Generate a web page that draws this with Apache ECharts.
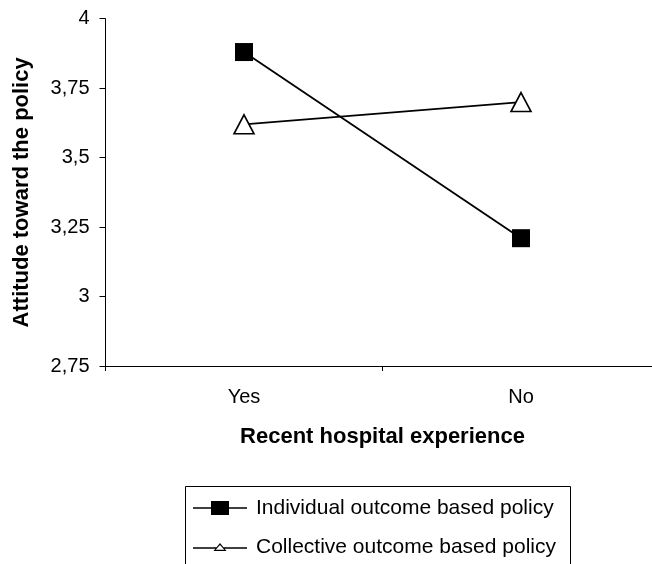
<!DOCTYPE html>
<html>
<head>
<meta charset="utf-8">
<script src="https://cdn.jsdelivr.net/npm/echarts@6/dist/echarts.min.js"></script>
<style>
  html, body { margin: 0; padding: 0; background: #fff; }
  #chart { width: 652px; height: 564px; }
</style>
</head>
<body>
<div id="chart"></div>
<script>
// Attitude scores by recent hospital experience, per policy framing
const categories = ['Yes', 'No'];
const individualPolicy = [3.88, 3.21];
const collectivePolicy = [3.62, 3.70];
const seriesNames = ['Individual outcome based policy', 'Collective outcome based policy'];
const yTicks = { min: 2.75, max: 4, step: 0.25 };

const FONT = '"Liberation Sans", Arial, sans-serif';

// Legend keys: a line with the series marker on it
const squareKey = 'path://M0 6.3H54V7.7H0Z M18 0H36V14H18Z';
const triangleKey = 'path://M0 4.3H24V5.7H0Z M30 4.3H54V5.7H30Z ' +
                    'M20.5 8L27 0L33.5 8Z M22.7 6.8L31.3 6.8L27 1.9Z';

// One single-entry legend per row, stacked inside a framed box
function legendRow(name, icon, top) {
  return {
    orient: 'vertical',
    left: 185,
    top: top,
    padding: [0, 0, 0, 8],
    borderWidth: 0,
    itemWidth: 54,
    itemHeight: 14,
    symbolKeepAspect: true,
    textStyle: { fontFamily: FONT, fontSize: 21, lineHeight: 22, color: '#000', padding: [0, 0, 0, 4] },
    data: [{ name: name, icon: icon, itemStyle: { color: '#000', borderWidth: 0 } }]
  };
}

const chart = echarts.init(document.getElementById('chart'), null, { renderer: 'canvas' });

chart.setOption({
  animation: false,
  backgroundColor: '#ffffff',
  textStyle: { fontFamily: FONT, color: '#000' },
  grid: { left: 105.5, top: 18.7, width: 554, height: 347.3, outerBoundsMode: 'none', containLabel: false },
  xAxis: {
    type: 'category',
    data: categories,
    boundaryGap: true,
    name: 'Recent hospital experience',
    nameLocation: 'middle',
    nameGap: 60,
    nameTextStyle: { fontFamily: FONT, fontSize: 22, fontWeight: 'bold', color: '#000' },
    axisLine: { lineStyle: { color: '#000', width: 1 } },
    axisTick: { show: true, length: 5, lineStyle: { color: '#000' } },
    axisLabel: { fontFamily: FONT, fontSize: 20, color: '#000', margin: 21 }
  },
  yAxis: {
    type: 'value',
    min: yTicks.min,
    max: yTicks.max,
    interval: yTicks.step,
    name: 'Attitude toward the policy',
    nameLocation: 'middle',
    nameGap: 73,
    nameTextStyle: { fontFamily: FONT, fontSize: 22, fontWeight: 'bold', color: '#000' },
    splitLine: { show: false },
    axisLine: { show: true, lineStyle: { color: '#000', width: 1 } },
    axisTick: { show: true, length: 6, lineStyle: { color: '#000' } },
    axisLabel: {
      fontFamily: FONT, fontSize: 20, color: '#000', margin: 16,
      formatter: v => String(+v.toFixed(2)).replace('.', ',')
    }
  },
  graphic: [{
    type: 'rect',
    shape: { x: 185.5, y: 486.5, width: 385, height: 100 },
    style: { fill: 'none', stroke: '#000', lineWidth: 1 },
    silent: true
  }],
  legend: [
    legendRow(seriesNames[0], squareKey, 497),
    legendRow(seriesNames[1], triangleKey, 536)
  ],
  series: [
    {
      name: seriesNames[0],
      type: 'line',
      data: individualPolicy,
      symbol: 'rect',
      symbolSize: 18,
      lineStyle: { color: '#000', width: 1.8 },
      itemStyle: { color: '#000', borderColor: '#000', borderWidth: 0 }
    },
    {
      name: seriesNames[1],
      type: 'line',
      data: collectivePolicy,
      symbol: 'triangle',
      symbolSize: [20, 19],
      lineStyle: { color: '#000', width: 1.8 },
      itemStyle: { color: '#fff', borderColor: '#000', borderWidth: 1.6 }
    }
  ]
});
</script>
</body>
</html>
